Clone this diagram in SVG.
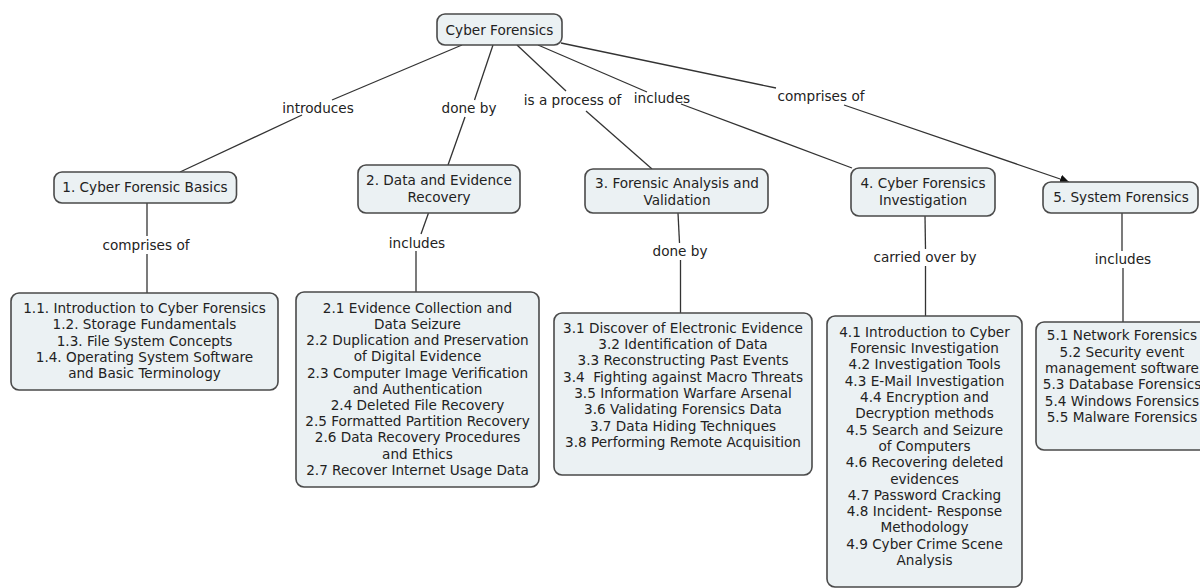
<svg xmlns="http://www.w3.org/2000/svg" width="1200" height="588" viewBox="0 0 1200 588">
<defs>
<marker id="arr" viewBox="0 0 10 10" refX="10" refY="5" markerWidth="9" markerHeight="9" markerUnits="userSpaceOnUse" orient="auto"><path d="M0,0 L10,5 L0,10 z" fill="#111"/></marker>
<style>
.box{fill:#ebf1f3;stroke:#4a4a4a;stroke-width:1.6}
text{font-family:"DejaVu Sans",Verdana,sans-serif;font-size:13.6px;fill:#222;text-anchor:middle}
.ln{stroke:#333;stroke-width:1.3;fill:none}
</style>
</defs>
<rect width="1200" height="588" fill="#fff"/>
<g id="connectors">
<line class="ln" x1="462" y1="45" x2="332" y2="100"/>
<line class="ln" x1="302" y1="115" x2="180" y2="172"/>
<line class="ln" x1="493" y1="45" x2="474.5" y2="100"/>
<line class="ln" x1="465" y1="117" x2="448" y2="165"/>
<line class="ln" x1="517" y1="45" x2="566" y2="91"/>
<line class="ln" x1="586" y1="111" x2="652" y2="169"/>
<line class="ln" x1="538" y1="45" x2="647" y2="92"/>
<line class="ln" x1="681" y1="104" x2="852" y2="168"/>
<line class="ln" x1="561" y1="43" x2="776" y2="88"/>
<line class="ln" x1="844" y1="105" x2="1069" y2="182" marker-end="url(#arr)"/>
<line class="ln" x1="147" y1="203" x2="147" y2="236"/>
<line class="ln" x1="147" y1="254" x2="147" y2="293"/>
<line class="ln" x1="428.5" y1="213" x2="421" y2="234"/>
<line class="ln" x1="416" y1="251" x2="416" y2="292"/>
<line class="ln" x1="678" y1="213" x2="679.5" y2="243"/>
<line class="ln" x1="680.5" y1="260" x2="680.5" y2="313"/>
<line class="ln" x1="925" y1="216" x2="925.5" y2="249"/>
<line class="ln" x1="925.5" y1="266" x2="925.5" y2="316"/>
<line class="ln" x1="1122" y1="213" x2="1122" y2="251"/>
<line class="ln" x1="1123" y1="268" x2="1123" y2="322"/>
<text x="318" y="112.5">introduces</text>
<text x="469" y="112.5">done by</text>
<text x="572.5" y="104.5">is a process of</text>
<text x="662" y="102.5">includes</text>
<text x="821" y="100.5">comprises of</text>
<text x="146" y="249.5">comprises of</text>
<text x="417" y="247.5">includes</text>
<text x="680" y="255.5">done by</text>
<text x="925" y="261.5">carried over by</text>
<text x="1123" y="263.5">includes</text>
</g>
<g id="root">
<rect class="box" x="437" y="14" width="125" height="31" rx="8"/>
<text x="499.5" y="34.5">Cyber Forensics</text>
</g>
<g id="n1">
<rect class="box" x="54" y="172" width="182.5" height="31" rx="8"/>
<text x="145" y="192.3">1. Cyber Forensic Basics</text>
</g>
<g id="n2">
<rect class="box" x="358" y="165" width="162" height="48" rx="8"/>
<text x="439" y="185">2. Data and Evidence</text>
<text x="439" y="202">Recovery</text>
</g>
<g id="n3">
<rect class="box" x="585" y="169" width="183" height="44" rx="8"/>
<text x="677" y="188">3. Forensic Analysis and</text>
<text x="677" y="205">Validation</text>
</g>
<g id="n4">
<rect class="box" x="851" y="168" width="144" height="48" rx="8"/>
<text x="923" y="188">4. Cyber Forensics</text>
<text x="923" y="205">Investigation</text>
</g>
<g id="n5">
<rect class="box" x="1043" y="182" width="155" height="31" rx="8"/>
<text x="1121" y="202">5. System Forensics</text>
</g>
<g id="c1">
<rect class="box" x="11" y="293" width="267" height="97" rx="8"/>
<text x="144.5" y="312.7">1.1. Introduction to Cyber Forensics</text>
<text x="144.5" y="329.1">1.2. Storage Fundamentals</text>
<text x="144.5" y="345.5">1.3. File System Concepts</text>
<text x="144.5" y="361.9">1.4. Operating System Software</text>
<text x="144.5" y="378.3">and Basic Terminology</text>
</g>
<g id="c2">
<rect class="box" x="296" y="292" width="243" height="195" rx="8"/>
<text x="417.5" y="312.8">2.1 Evidence Collection and</text>
<text x="417.5" y="329">Data Seizure</text>
<text x="417.5" y="345.2">2.2 Duplication and Preservation</text>
<text x="417.5" y="361.4">of Digital Evidence</text>
<text x="417.5" y="377.6">2.3 Computer Image Verification</text>
<text x="417.5" y="393.8">and Authentication</text>
<text x="417.5" y="410">2.4 Deleted File Recovery</text>
<text x="417.5" y="426.2">2.5 Formatted Partition Recovery</text>
<text x="417.5" y="442.4">2.6 Data Recovery Procedures</text>
<text x="417.5" y="458.6">and Ethics</text>
<text x="417.5" y="474.8">2.7 Recover Internet Usage Data</text>
</g>
<g id="c3">
<rect class="box" x="554" y="313" width="258" height="162" rx="8"/>
<text x="683" y="332.8">3.1 Discover of Electronic Evidence</text>
<text x="683" y="349.1">3.2 Identification of Data</text>
<text x="683" y="365.4">3.3 Reconstructing Past Events</text>
<text x="683" y="381.7" xml:space="preserve">3.4  Fighting against Macro Threats</text>
<text x="683" y="398">3.5 Information Warfare Arsenal</text>
<text x="683" y="414.3">3.6 Validating Forensics Data</text>
<text x="683" y="430.6">3.7 Data Hiding Techniques</text>
<text x="683" y="446.9">3.8 Performing Remote Acquisition</text>
</g>
<g id="c4">
<rect class="box" x="827" y="316" width="195" height="271" rx="8"/>
<text x="924.5" y="336.8">4.1 Introduction to Cyber</text>
<text x="924.5" y="353.1">Forensic Investigation</text>
<text x="924.5" y="369.4">4.2 Investigation Tools</text>
<text x="924.5" y="385.7">4.3 E-Mail Investigation</text>
<text x="924.5" y="402">4.4 Encryption and</text>
<text x="924.5" y="418.3">Decryption methods</text>
<text x="924.5" y="434.6">4.5 Search and Seizure</text>
<text x="924.5" y="450.9">of Computers</text>
<text x="924.5" y="467.2">4.6 Recovering deleted</text>
<text x="924.5" y="483.5">evidences</text>
<text x="924.5" y="499.8">4.7 Password Cracking</text>
<text x="924.5" y="516.1">4.8 Incident- Response</text>
<text x="924.5" y="532.4">Methodology</text>
<text x="924.5" y="548.7">4.9 Cyber Crime Scene</text>
<text x="924.5" y="565">Analysis</text>
</g>
<g id="c5">
<rect class="box" x="1036" y="322" width="175" height="128" rx="8"/>
<text x="1122" y="340.4">5.1 Network Forensics</text>
<text x="1122" y="356.7">5.2 Security event</text>
<text x="1122" y="373">management software</text>
<text x="1122" y="389.3">5.3 Database Forensics</text>
<text x="1122" y="405.6">5.4 Windows Forensics</text>
<text x="1122" y="421.9">5.5 Malware Forensics</text>
</g>
</svg>
